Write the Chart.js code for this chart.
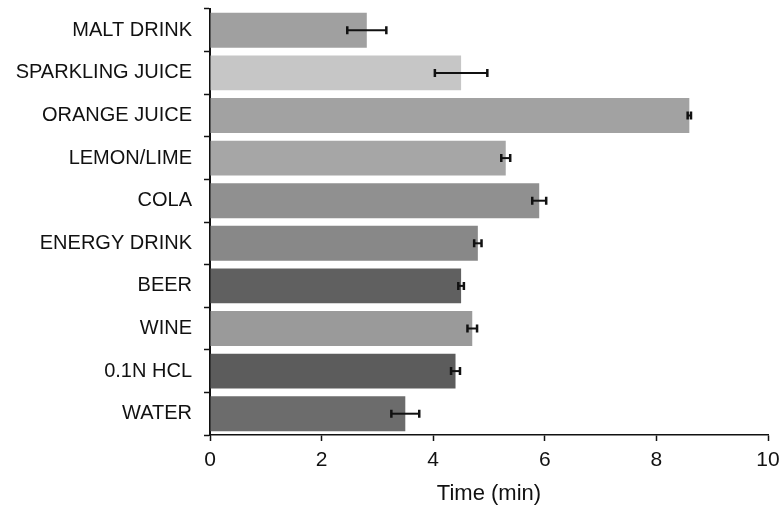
<!DOCTYPE html>
<html>
<head>
<meta charset="utf-8">
<script src="https://cdn.jsdelivr.net/npm/chart.js@4"></script>
<style>
  html, body { margin: 0; padding: 0; background: #fff; }
  #wrap { width: 781px; height: 508px; }
</style>
</head>
<body>
<div id="wrap"><canvas id="times-chart"></canvas></div>
<script>
'use strict'

// datos
var drinks = ['MALT DRINK', 'SPARKLING JUICE', 'ORANGE JUICE', 'LEMON/LIME', 'COLA',
  'ENERGY DRINK', 'BEER', 'WINE', '0.1N HCL', 'WATER']
var times = [2.81, 4.50, 8.59, 5.30, 5.90, 4.80, 4.50, 4.70, 4.40, 3.50]
var errors = [0.35, 0.47, 0.03, 0.08, 0.125, 0.066, 0.05, 0.086, 0.08, 0.25]
var barColors = ['#a0a0a0', '#c6c6c6', '#a2a2a2', '#a6a6a6', '#909090',
  '#888888', '#606060', '#9a9a9a', '#5c5c5c', '#6c6c6c']
var timeTicks = [0, 2, 4, 6, 8, 10]

var fontFamily = '"Liberation Sans", Arial, sans-serif'

// barras de error horizontales
var errorBars = {
  id: 'errorBars',
  afterDatasetsDraw: function (chart) {
    var ctx = chart.ctx
    var xs = chart.scales.x
    var meta = chart.getDatasetMeta(0)
    ctx.save()
    ctx.strokeStyle = '#111'
    meta.data.forEach(function (bar, i) {
      var y = bar.y
      var x0 = xs.getPixelForValue(times[i] - errors[i])
      var x1 = xs.getPixelForValue(times[i] + errors[i])
      ctx.lineWidth = 2
      ctx.beginPath()
      ctx.moveTo(x0, y)
      ctx.lineTo(x1, y)
      ctx.stroke()
      ctx.lineWidth = 2.5
      ctx.beginPath()
      ctx.moveTo(x0, y - 4)
      ctx.lineTo(x0, y + 4)
      ctx.moveTo(x1, y - 4)
      ctx.lineTo(x1, y + 4)
      ctx.stroke()
    })
    ctx.restore()
  }
}

var ctx = document.getElementById('times-chart').getContext('2d')

var chart = new Chart(ctx, {
  type: 'bar',
  data: {
    labels: drinks,
    datasets: [{
      data: times,
      backgroundColor: barColors,
      borderWidth: 0,
      barPercentage: 0.82,
      categoryPercentage: 1
    }]
  },
  options: {
    indexAxis: 'y',
    responsive: true,
    maintainAspectRatio: false,
    animation: false,
    layout: { padding: { left: 0, right: 13, top: 9, bottom: 0 } },
    plugins: {
      legend: { display: false },
      tooltip: { enabled: false }
    },
    scales: {
      x: {
        min: 0,
        max: 10,
        afterFit: function (scale) {
          scale.height = 73
          scale.paddingLeft = 0
          scale.paddingRight = 0
        },
        afterBuildTicks: function (scale) {
          scale.ticks = timeTicks.map(function (v) { return { value: v } })
        },
        border: { display: true, color: '#111', width: 1.5 },
        grid: { drawOnChartArea: false, drawTicks: true, tickLength: 6, tickColor: '#111', tickWidth: 1.5 },
        ticks: { color: '#111', padding: 7, font: { family: fontFamily, size: 21 } },
        title: {
          display: true,
          text: 'Time (min)',
          color: '#111',
          padding: { top: 0, bottom: 1 },
          font: { family: fontFamily, size: 22 }
        }
      },
      y: {
        afterFit: function (scale) {
          scale.width = 210
          scale.paddingTop = 0
          scale.paddingBottom = 0
        },
        border: { display: true, color: '#111', width: 2 },
        grid: { offset: true, drawOnChartArea: false, drawTicks: true, tickLength: 6, tickColor: '#111', tickWidth: 1.5 },
        ticks: { color: '#111', padding: 12, font: { family: fontFamily, size: 20 } }
      }
    }
  },
  plugins: [errorBars]
})
</script>
</body>
</html>
